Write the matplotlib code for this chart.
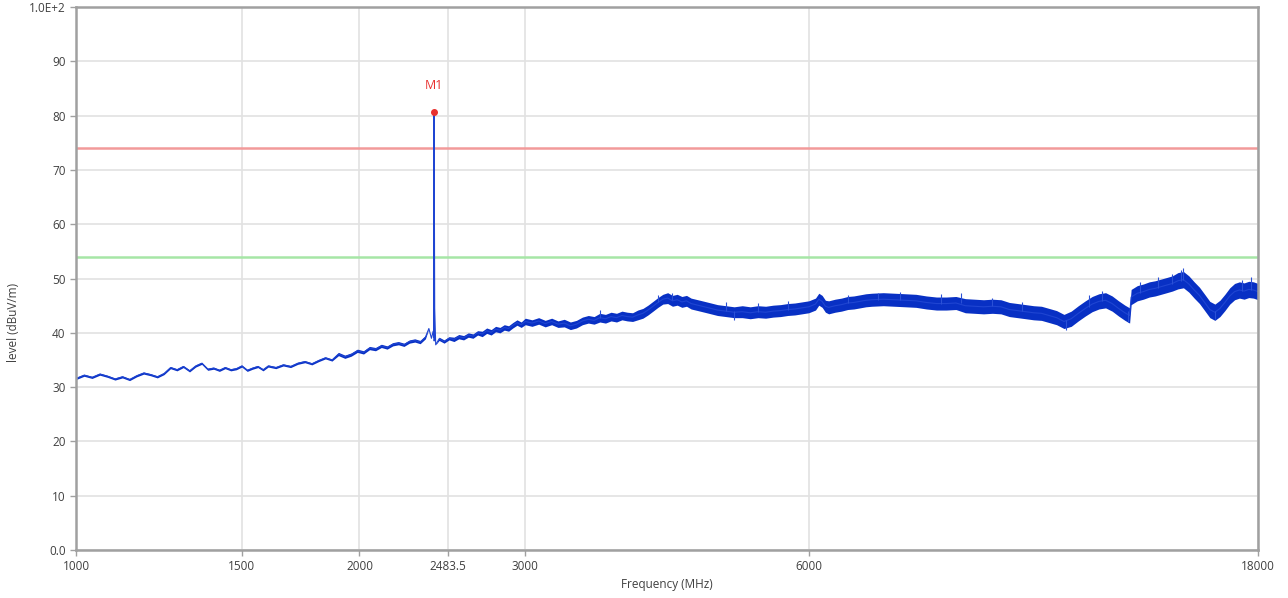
import matplotlib

matplotlib.use("Agg")
import matplotlib.pyplot as plt
import numpy as np

# Трасса спектра: частота (МГц), уровень (dBuV/m), полуширина шумовой полосы
freq_mhz = [
    1000, 1020, 1040, 1060, 1080, 1100, 1120, 1140, 1160, 1180,
    1200, 1220, 1240, 1260, 1280, 1300, 1320, 1340, 1360, 1380,
    1400, 1420, 1440, 1460, 1480, 1500, 1520, 1540, 1560, 1580,
    1600, 1630, 1660, 1690, 1720, 1750, 1780, 1810, 1840, 1870,
    1900, 1930, 1960, 1990, 2020, 2050, 2080, 2110, 2140, 2170,
    2200, 2230, 2260, 2290, 2320, 2350, 2370, 2385, 2395, 2398,
    2400, 2401, 2402, 2404, 2410, 2430, 2460, 2490, 2520, 2550,
    2580, 2610, 2640, 2670, 2700, 2730, 2760, 2790, 2820, 2850,
    2880, 2910, 2940, 2970, 3000, 3050, 3100, 3150, 3200, 3250,
    3300, 3350, 3400, 3450, 3500, 3550, 3600, 3650, 3700, 3750,
    3800, 3850, 3900, 3950, 4000, 4050, 4100, 4150, 4200, 4250,
    4300, 4350, 4400, 4450, 4500, 4600, 4700, 4800, 4900, 5000,
    5100, 5200, 5300, 5400, 5500, 5600, 5700, 5800, 5900, 6000,
    6100, 6150, 6200, 6250, 6300, 6400, 6500, 6600, 6700, 6800,
    6900, 7000, 7200, 7400, 7600, 7800, 8000, 8200, 8400, 8600,
    8800, 9000, 9200, 9400, 9600, 9800, 10000, 10200, 10400, 10600,
    10800, 11000, 11200, 11400, 11600, 11800, 12000, 12200, 12400, 12600,
    12800, 13000, 13150, 13200, 13400, 13600, 13800, 14000, 14200, 14400,
    14600, 14800, 15000, 15200, 15400, 15600, 15800, 16000, 16200, 16400,
    16600, 16800, 17000, 17200, 17400, 17600, 17800, 18000,
]
level_dbuv = [
    31.6, 32.2, 31.8, 32.4, 32.0, 31.5, 31.9, 31.4, 32.1, 32.6,
    32.3, 31.9, 32.5, 33.6, 33.2, 33.8, 33.0, 33.9, 34.4, 33.3,
    33.5, 33.1, 33.6, 33.2, 33.4, 33.9, 33.1, 33.5, 33.8, 33.2,
    33.9, 33.6, 34.1, 33.8, 34.4, 34.7, 34.3, 34.9, 35.4, 35.0,
    36.1, 35.6, 36.0, 36.7, 36.4, 37.2, 37.0, 37.6, 37.3, 37.9,
    38.1, 37.8, 38.4, 38.6, 38.3, 39.2, 40.8, 39.0, 40.3, 39.2,
    80.6, 38.5, 65.6, 44.5, 37.8, 38.9, 38.4, 39.0, 38.8, 39.3,
    39.1, 39.6, 39.4, 40.0, 39.8, 40.4, 40.1, 40.7, 40.5, 41.0,
    40.8, 41.4, 41.9, 41.5, 42.1, 41.8, 42.2, 41.7, 42.1, 41.6,
    41.8, 41.3, 41.6, 42.2, 42.5, 42.3, 42.8, 42.6, 43.0, 42.8,
    43.2, 43.0, 42.9, 43.3, 43.6, 44.2, 44.9, 45.6, 46.2, 46.4,
    45.9, 46.1, 45.7, 45.9, 45.4, 45.0, 44.6, 44.2, 44.0, 43.8,
    43.9, 43.7, 43.9, 43.8, 44.0, 44.1, 44.3, 44.4, 44.6, 44.8,
    45.3, 46.2, 45.8, 44.9, 44.7, 45.0, 45.2, 45.5, 45.6, 45.8,
    46.0, 46.1, 46.2, 46.1, 46.0, 45.9, 45.6, 45.4, 45.4, 45.5,
    45.0, 44.9, 44.8, 44.9, 44.8, 44.3, 44.1, 43.9, 43.7, 43.6,
    43.2, 42.8, 42.1, 42.6, 43.6, 44.5, 45.3, 45.8, 46.0, 45.4,
    44.5, 43.7, 43.2, 46.6, 47.3, 47.6, 48.0, 48.2, 48.5, 48.8,
    49.1, 49.6, 49.8, 49.0, 47.9, 46.9, 45.6, 44.3, 43.8, 44.5,
    45.6, 46.8, 47.6, 47.9, 47.7, 48.0, 47.9, 47.6,
]
band_half = [
    0.2, 0.2, 0.2, 0.2, 0.2, 0.2, 0.2, 0.2, 0.2, 0.2,
    0.2, 0.2, 0.2, 0.2, 0.2, 0.2, 0.2, 0.2, 0.2, 0.2,
    0.2, 0.2, 0.2, 0.2, 0.2, 0.2, 0.2, 0.2, 0.2, 0.2,
    0.2, 0.2, 0.2, 0.2, 0.2, 0.2, 0.2, 0.2, 0.2, 0.2,
    0.3, 0.3, 0.3, 0.3, 0.3, 0.3, 0.3, 0.3, 0.3, 0.3,
    0.3, 0.3, 0.3, 0.3, 0.3, 0.3, 0.0, 0.0, 0.0, 0.0,
    0.0, 0.0, 0.0, 0.0, 0.0, 0.3, 0.3, 0.3, 0.4, 0.4,
    0.4, 0.4, 0.4, 0.4, 0.5, 0.5, 0.5, 0.5, 0.5, 0.5,
    0.5, 0.5, 0.5, 0.5, 0.6, 0.6, 0.6, 0.6, 0.6, 0.6,
    0.7, 0.7, 0.7, 0.7, 0.7, 0.7, 0.8, 0.8, 0.8, 0.8,
    0.8, 0.8, 0.8, 0.9, 0.9, 0.9, 0.9, 0.9, 0.9, 1.0,
    1.0, 1.0, 1.0, 1.0, 1.0, 1.0, 1.0, 1.0, 1.0, 1.0,
    1.1, 1.1, 1.1, 1.1, 1.1, 1.1, 1.1, 1.1, 1.1, 1.1,
    1.1, 1.1, 1.1, 1.1, 1.2, 1.2, 1.2, 1.2, 1.2, 1.2,
    1.2, 1.2, 1.2, 1.2, 1.2, 1.2, 1.2, 1.2, 1.2, 1.2,
    1.3, 1.3, 1.3, 1.3, 1.3, 1.3, 1.3, 1.3, 1.3, 1.3,
    1.3, 1.3, 1.3, 1.4, 1.4, 1.4, 1.4, 1.4, 1.4, 1.4,
    1.4, 1.4, 1.4, 1.4, 1.4, 1.4, 1.4, 1.4, 1.4, 1.4,
    1.4, 1.5, 1.5, 1.5, 1.5, 1.5, 1.5, 1.5, 1.5, 1.5,
    1.5, 1.5, 1.5, 1.5, 1.5, 1.5, 1.5, 1.5,
]

# Отдельные шумовые выбросы поверх полосы
spike_freq = [3600, 4150, 4300, 4900, 5000, 5300, 5700, 6600, 7100, 7500,
              8300, 8700, 9400, 10100, 11250, 11900, 12300, 13100, 13500, 14100,
              14600, 14900, 15000, 16200, 17300, 17700]
spike_lo = [42.8, 45.6, 46.0, 44.0, 42.3, 43.9, 44.3, 45.5, 46.1, 46.1,
            45.4, 45.5, 44.9, 44.1, 40.6, 44.8, 45.8, 42.0, 47.4, 48.2,
            49.0, 49.6, 49.8, 42.5, 47.8, 47.9]
spike_hi = [44.2, 47.0, 47.3, 45.6, 44.0, 45.5, 45.8, 47.0, 47.4, 47.6,
            47.2, 47.4, 46.4, 45.6, 42.4, 47.0, 47.8, 44.0, 49.3, 50.2,
            50.8, 51.6, 52.0, 44.0, 49.8, 50.3]

limit_peak = 74.0
limit_avg = 54.0
marker_freq = 2400
marker_level = 80.6
marker_label = "M1"

x_ticks = [1000, 1500, 2000, 2483.5, 3000, 6000, 18000]
x_tick_labels = ["1000", "1500", "2000", "2483.5", "3000", "6000", "18000"]
y_ticks = [0, 10, 20, 30, 40, 50, 60, 70, 80, 90, 100]
y_tick_labels = ["0.0", "10", "20", "30", "40", "50", "60", "70", "80", "90", "1.0E+2"]

plt.rcParams["font.family"] = ["Open Sans", "DejaVu Sans"]

fig = plt.figure(figsize=(12.88, 5.98), dpi=100)
ax = fig.add_axes([0.059, 0.0803, 0.9177, 0.9077])

f = np.array(freq_mhz, dtype=float)
lv = np.array(level_dbuv)
hw = np.array(band_half)

trace_color = "#0830c4"
ax.fill_between(f, lv - hw, lv + hw, color=trace_color, lw=0)
ax.plot(f, lv, color="#1f45d2", lw=0.8)
ax.vlines(spike_freq, spike_lo, spike_hi, color="#2a50d6", lw=0.8)

ax.axhline(limit_peak, color="#f29a9a", lw=1.8, zorder=1)
ax.axhline(limit_avg, color="#a6e6a6", lw=1.8, zorder=1)

ax.plot([marker_freq], [marker_level], "o", color="#e8302e", ms=4, zorder=5)
ax.annotate(marker_label, (marker_freq, marker_level), xytext=(0, 15),
            textcoords="offset points", ha="center", va="bottom",
            color="#e8302e", fontsize=9)

ax.set_xscale("log")
ax.set_xlim(1000, 18000)
ax.set_ylim(0, 100)
ax.set_xticks(x_ticks)
ax.set_xticklabels(x_tick_labels)
ax.xaxis.set_minor_locator(matplotlib.ticker.NullLocator())
ax.set_yticks(y_ticks)
ax.set_yticklabels(y_tick_labels)

ax.grid(True, color="#e2e2e2", lw=1.2)
ax.set_axisbelow(True)
for side in ["left", "bottom", "top", "right"]:
    ax.spines[side].set_color("#a0a0a0")
    ax.spines[side].set_linewidth(1.8)
ax.tick_params(axis="both", colors="#a0a0a0", labelcolor="#404040",
               labelsize=8.5, length=4, width=1)

ax.set_xlabel("Frequency (MHz)", fontsize=8.5, color="#404040", labelpad=3)
ax.set_ylabel("level (dBuV/m)", fontsize=8.5, color="#404040")
ax.yaxis.set_label_coords(-0.047, 0.42)

fig.savefig("out.png", dpi=100)
plt.close(fig)
